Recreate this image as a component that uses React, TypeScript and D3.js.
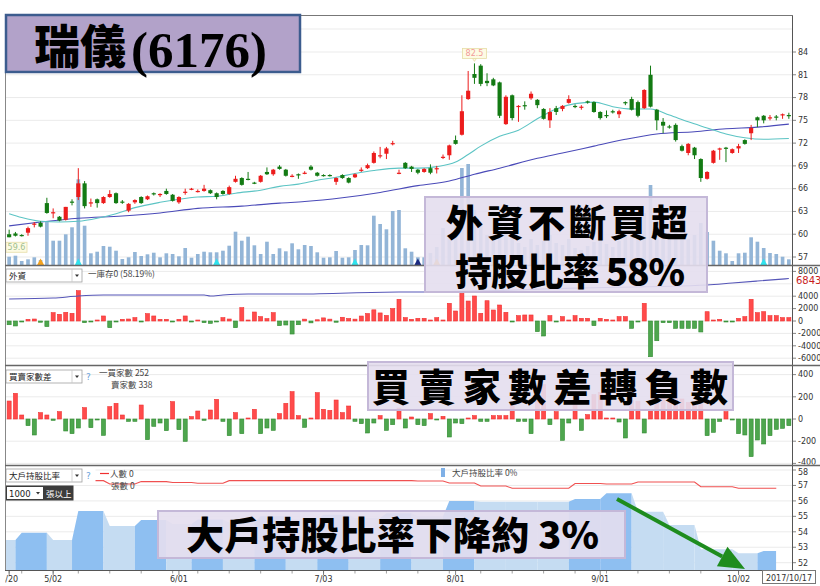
import * as d3 from 'd3';

// ---- data ----
const tickIdx = [0, 7, 27, 50, 71, 94, 116];
const tickLabels = ['4/20', '5/02', '6/01', '7/03', '8/01', '9/01', '10/02'];
const weekStarts = [0, 2, 7, 11, 16, 21, 26, 30, 35, 40, 45, 50, 55, 60, 65, 70, 75, 80, 85, 90, 95, 100, 105, 110, 116, 120, 123];

// open, high, low, close
const ohlc: [number, number, number, number][] = [
  [60.0, 60.6, 59.6, 59.6], [60.1, 60.3, 59.7, 59.8], [59.9, 60.0, 59.7, 59.8], [60.2, 61.0, 59.8, 60.8], [61.3, 61.6, 60.9, 61.4],
  [61.5, 61.7, 60.9, 61.0], [64.1, 64.8, 62.7, 62.8], [62.8, 63.4, 62.1, 62.9], [62.3, 62.4, 61.7, 61.8], [61.9, 63.6, 61.8, 63.6],
  [64.3, 64.6, 63.8, 64.2], [64.9, 68.7, 64.5, 66.7], [66.7, 67.0, 63.4, 63.7], [64.1, 64.7, 63.6, 64.2], [64.6, 64.7, 63.5, 64.1],
  [64.1, 65.0, 64.0, 64.9], [64.9, 65.8, 64.8, 65.3], [65.4, 65.5, 64.0, 64.1], [64.3, 64.5, 64.0, 64.2], [63.1, 64.1, 62.9, 64.0],
  [64.2, 64.6, 64.0, 64.5], [64.9, 65.0, 64.0, 64.1], [64.6, 65.1, 64.5, 65.0], [65.4, 65.5, 65.1, 65.3], [65.3, 65.4, 64.9, 65.3],
  [65.7, 66.0, 65.2, 65.3], [65.2, 65.3, 64.3, 64.4], [64.2, 65.0, 64.0, 64.9], [65.5, 66.0, 65.2, 65.6], [66.0, 66.1, 65.8, 66.0],
  [65.6, 65.9, 65.5, 65.7], [65.7, 66.5, 65.6, 66.0], [65.8, 65.9, 65.3, 65.4], [65.4, 65.5, 64.6, 64.9], [65.7, 65.8, 65.2, 65.3],
  [65.3, 66.4, 65.2, 66.2], [66.9, 67.7, 66.8, 67.3], [67.4, 67.5, 66.4, 66.5], [67.3, 68.2, 67.1, 67.2], [66.8, 66.9, 66.6, 66.7],
  [66.9, 67.8, 66.8, 67.7], [68.2, 68.8, 67.8, 67.9], [67.9, 68.6, 67.7, 68.5], [68.9, 69.1, 68.5, 68.6], [68.5, 68.6, 67.6, 67.7],
  [67.6, 67.9, 67.5, 67.7], [67.9, 68.0, 67.3, 67.8], [68.0, 68.3, 67.9, 68.1], [68.9, 69.1, 68.4, 68.5], [68.1, 68.2, 67.6, 67.7],
  [67.8, 67.9, 67.6, 67.7], [67.8, 67.9, 67.6, 67.7], [66.9, 67.5, 66.5, 67.4], [67.8, 67.9, 67.3, 67.4], [67.4, 67.5, 66.7, 66.8],
  [67.5, 68.0, 67.4, 67.9], [68.4, 68.8, 68.2, 68.5], [68.7, 69.3, 68.6, 69.1], [69.4, 70.9, 69.3, 70.7], [70.3, 71.5, 70.0, 70.4],
  [70.6, 71.5, 69.9, 71.3], [71.9, 72.3, 71.7, 72.0], [68.0, 68.5, 67.9, 68.1], [69.4, 69.5, 68.6, 68.7], [68.9, 69.0, 68.2, 68.6],
  [68.5, 68.6, 67.9, 68.1], [68.2, 68.7, 68.1, 68.6], [68.7, 69.2, 67.9, 68.1], [68.6, 69.0, 68.0, 68.7], [70.1, 70.5, 69.9, 70.2],
  [70.4, 71.8, 69.8, 71.7], [72.4, 73.0, 71.8, 71.9], [73.1, 78.3, 73.0, 76.2], [77.8, 81.5, 77.7, 78.9], [81.1, 82.5, 79.8, 80.6],
  [82.2, 82.4, 79.5, 79.8], [80.2, 81.2, 79.5, 79.9], [80.4, 80.6, 79.5, 79.6], [80.0, 80.1, 75.3, 75.6], [74.5, 78.3, 74.4, 78.1],
  [78.3, 78.4, 75.0, 75.3], [76.8, 77.0, 74.8, 76.9], [77.0, 77.5, 76.4, 76.9], [77.9, 78.8, 77.7, 78.5], [77.7, 77.8, 76.6, 77.0],
  [76.5, 76.6, 75.1, 75.2], [75.0, 76.6, 74.0, 76.1], [76.6, 76.9, 75.7, 76.1], [76.5, 77.0, 76.2, 76.9], [77.3, 78.3, 77.2, 77.8],
  [76.9, 77.1, 76.6, 76.8], [76.7, 77.0, 76.4, 76.8], [77.5, 77.6, 77.2, 77.4], [77.4, 77.5, 76.0, 76.1], [76.1, 76.2, 75.1, 75.3],
  [75.7, 76.3, 75.3, 75.6], [76.2, 76.4, 75.9, 76.1], [75.8, 76.4, 75.3, 76.2], [77.4, 77.5, 77.0, 77.3], [77.8, 78.1, 76.3, 76.4],
  [77.4, 77.6, 75.4, 75.6], [76.6, 79.1, 76.5, 79.0], [81.0, 82.2, 76.7, 76.8], [76.4, 76.5, 73.7, 75.0], [74.8, 75.3, 73.3, 74.3],
  [74.2, 74.4, 73.9, 74.1], [74.4, 74.6, 72.2, 72.4], [71.6, 71.8, 70.9, 71.0], [70.7, 72.0, 70.4, 71.9], [71.4, 71.5, 69.9, 70.4],
  [69.9, 70.0, 66.9, 67.4], [67.3, 68.3, 67.2, 68.2], [69.4, 71.1, 69.3, 71.0], [71.2, 71.4, 69.8, 71.3], [71.4, 71.5, 69.5, 71.3],
  [70.7, 71.3, 70.6, 71.2], [71.3, 71.9, 70.7, 71.6], [72.4, 72.5, 71.8, 71.9], [73.3, 74.4, 72.4, 74.0], [75.4, 75.5, 74.1, 75.0],
  [75.6, 75.7, 74.6, 75.0], [75.3, 75.7, 75.0, 75.4], [75.5, 75.7, 75.0, 75.4], [75.8, 75.9, 75.2, 75.8], [75.7, 76.0, 75.2, 75.6],
];

const volume = [
  830, 930, 400, 570, 770, 500, 4330, 2430, 2430, 3070, 3770, 8570, 3930, 1170, 1330, 1900, 1830, 1430, 600, 770,
  1300, 900, 1070, 1230, 770, 1170, 1100, 870, 1700, 730, 1100, 1330, 1270, 1270, 1430, 1930, 3330, 2430, 2830, 1970,
  1100, 2330, 1100, 1670, 1370, 2170, 1570, 2000, 1900, 1270, 730, 770, 1400, 730, 770, 1500, 2000, 1970, 4930, 4100,
  3570, 5400, 5500, 1670, 1330, 770, 770, 1200, 1800, 3700, 2800, 4500, 9700, 10100, 5500, 4200, 3000, 2500, 4800, 4000,
  3200, 2200, 1800, 2600, 2000, 2400, 3000, 2200, 2000, 2600, 1700, 1500, 1900, 2300, 2800, 2100, 1800, 2400, 3000, 3600,
  3200, 5200, 8000, 4500, 3500, 2800, 3200, 3800, 2600, 3000, 4200, 3300, 2430, 1430, 1170, 400, 1170, 1230, 2770, 2330,
  1700, 1200, 1100, 830, 570,
];

const markerIdx = [5, 11, 33, 55, 65, 68, 120];
const markerColor = ['#f5a21c', '#2fe3ee', '#2fe3ee', '#2fe3ee', '#1b2a80', '#f5a21c', '#2fe3ee'];

const ma20Idx = [0, 2, 5, 8, 11, 14, 17, 20, 24, 27, 30, 33, 36, 40, 43, 46, 49, 52, 55, 58, 62, 65, 68, 71, 73, 75, 78, 81, 84, 87, 90, 93, 96, 99, 102, 105, 108, 111, 114, 117, 120, 124];
const ma20Val = [62.7, 62.2, 61.7, 61.6, 61.7, 62.1, 62.7, 63.5, 64.2, 64.6, 64.9, 65.0, 65.4, 65.8, 66.3, 66.6, 67.1, 67.5, 68.0, 68.4, 68.7, 68.7, 68.9, 69.5, 70.5, 71.6, 72.9, 73.7, 75.2, 76.5, 77.2, 77.4, 76.8, 76.5, 76.5, 75.7, 74.8, 74.0, 73.2, 72.7, 72.5, 72.6];
const ma60Idx = [0, 5, 11, 18, 24, 30, 37, 43, 47, 53, 59, 65, 70, 74, 78, 84, 88, 93, 98, 103, 109, 114, 119, 124];
const ma60Val = [61.1, 61.6, 62.1, 62.4, 62.8, 63.4, 63.7, 64.1, 64.3, 64.8, 65.5, 66.4, 67.0, 67.9, 68.7, 70.0, 70.7, 71.6, 72.5, 73.2, 73.5, 73.9, 74.1, 74.5];

const foreignNet = [
  -600, -800, -50, 270, 320, -200, -900, 1340, 1080, 1400, 1240, 4890, -270, -160, 100, 810, -1080, -50, 270, 320,
  540, -50, 1180, 810, 270, 270, -160, 270, 810, -50, 0, -270, -380, -50, 540, 320, -1080, 2150, 100, 1450,
  700, 380, 1340, -750, -645, -2100, -600, 300, -300, 200, 500, 300, -200, 600, 400, 300, 800, 1200, 1800, 1300,
  900, 2000, 3500, 540, 270, 430, 430, 160, 540, 100, 2850, 1610, 4460, 3220, 4030, 1240, 3270, 1770, 2580, 1400,
  -100, 860, 970, 970, -1720, -2420, 860, -100, 700, 160, 860, 430, 430, -750, 430, 270, 160, 700, 700, -1180,
  -100, 2850, -5760, -3180, -270, -270, -1180, -1180, -1180, -1180, -1770, 1500, 160, 270, -50, -100, 430, 700, 3500, 1340,
  1500, 860, 860, 540, 540,
];
const holdIdx = [0, 7, 11, 15, 23, 31, 32, 34, 38, 46, 62, 66, 90, 111, 115, 119, 124];
const holdVal = [3550, 3700, 4030, 4190, 4190, 4190, 4030, 4190, 4350, 4350, 4680, 4680, 5300, 5800, 6130, 6450, 6843];

const brokerDiff = [
  162, 231, 36, -60, -144, 57, 36, -12, 66, -108, -132, -81, 102, -78, -6, -147, 111, 141, 36, -21,
  -21, 126, -186, -66, -36, -105, 156, -96, -201, 21, 72, -12, 81, 177, -21, -150, 57, -132, 6, 87,
  -132, -81, -102, 48, 141, 246, 30, -75, 6, 237, 87, 78, 171, 57, 117, -21, -42, -126, -36, 30,
  -102, -51, 99, -81, 18, -51, -60, 48, -6, 24, -162, -36, -42, 6, 30, -21, -21, 30, 30, 30,
  120, -21, -21, -132, 290, 310, -51, 66, -192, -36, 130, -102, 39, 220, 240, 9, 9, -27, -171, 170,
  160, -126, 84, 200, 250, 200, 260, 180, 150, 120, 140, -150, -120, -21, 66, -6, -132, -144, -339, -189,
  -225, -150, -93, -84, -60,
];

// weekly big-holder ratio (%) and holder count
const bigRatio = [53.47, 53.94, 53.47, 55.35, 54.37, 54.76, 54.5, 54.8, 54.6, 55.0, 54.8, 55.1, 54.9, 55.2, 55.0, 56.0, 55.95, 55.95, 55.95, 56.12, 56.49, 55.3, 54.44, 52.87, 52.61, 52.76];
const bigHolders = [235.6, 235.6, 235.6, 235.9, 232.7, 235.0, 234.1, 233.4, 235.9, 235.9, 235.9, 235.9, 235.9, 235.9, 235.6, 233.7, 230.8, 228.6, 228.6, 233.2, 232.7, 234.6, 234.6, 230.1, 228.6, 228.6];

const priceTicks = [57, 60, 63, 66, 69, 72, 75, 78, 81, 84];
const foreignTicks = [8000, 4000, 2000, 0, -2000, -4000, -6000];
const diffTicks = [400, 200, 0, -200, -400];
const ratioTicks = [58, 57, 56, 55, 54, 53, 52];

const RED = '#ec1c1c';
const GREEN = '#137a13';
const AXIS_FONT = 'DejaVu Sans, Verdana, sans-serif';
const CJK = '"Noto Sans CJK TC", "Noto Sans CJK SC", sans-serif';

function Dropdown({ x, y, w, label }: { x: number; y: number; w: number; label: string }) {
  return (
    <g>
      <rect x={x} y={y} width={w} height={13} fill="#fff" stroke="#a0a0a0" strokeWidth={0.8} />
      <line x1={x + w - 10} x2={x + w - 10} y1={y} y2={y + 13} stroke="#c8c8c8" strokeWidth={0.8} />
      <text x={x + 3} y={y + 9.5} fontSize={8.5} fontFamily={CJK} fill="#222">{label}</text>
      <path d={`M${x + w - 7},${y + 5.5} l4,0 l-2,2.5 z`} fill="#333" />
    </g>
  );
}

function BigBox({ x, y, w, h, children }: { x: number; y: number; w: number; h: number; children: any }) {
  return (
    <g>
      <rect x={x} y={y} width={w} height={h} fill="rgba(228,222,238,0.9)" stroke="#c4b8d8" strokeWidth={2} />
      {children}
    </g>
  );
}

export default function App() {
  const N = ohlc.length;
  const x = d3.scaleBand<number>().domain(d3.range(N)).range([6, 792]);
  const bw = x.bandwidth();
  const cx = (i: number) => (x(i) ?? 0) + bw / 2;

  const yP = d3.scaleLinear().domain([57, 84]).range([257, 52]);
  const yV = d3.scaleLinear().domain([0, 10000]).range([265, 165]);
  const yF = d3.scaleLinear().domain([-6000, 8000]).range([358.2, 271.4]);
  const yD = d3.scaleLinear().domain([-400, 400]).range([463.4, 374.6]);
  const yR = d3.scaleLinear().domain([52, 58]).range([562.7, 470]);
  const yH = d3.scaleLinear().domain([150, 250]).range([570, 466]);

  const ma20Path = d3.line<number>().x(i => cx(ma20Idx[i])).y(i => yP(ma20Val[i])).curve(d3.curveMonotoneX)(d3.range(ma20Idx.length)) ?? '';
  const ma60Path = d3.line<number>().x(i => cx(ma60Idx[i])).y(i => yP(ma60Val[i])).curve(d3.curveMonotoneX)(d3.range(ma60Idx.length)) ?? '';
  const holdPath = d3.line<number>().x(i => cx(holdIdx[i])).y(i => yF(holdVal[i])).curve(d3.curveMonotoneX)(d3.range(holdIdx.length)) ?? '';

  const weekOf = (i: number) => d3.bisectRight(weekStarts, i) - 1;
  const ratioDays = d3.range(weekStarts[bigRatio.length]);
  const ratioPts: [number, number][] = [[x.range()[0], bigRatio[0]], ...ratioDays.map(i => [cx(i), bigRatio[weekOf(i)]] as [number, number])];
  const ratioArea = d3.area<[number, number]>().x(d => d[0]).y0(570).y1(d => yR(d[1]))(ratioPts) ?? '';
  const holderPath = d3.line<number>().x(i => cx(i)).y(i => yH(bigHolders[weekOf(i)]))(ratioDays) ?? '';

  const weeks = d3.range(bigRatio.length).map(w => ({
    x0: w === 0 ? x.range()[0] : cx(weekStarts[w] - 1),
    x1: cx(weekStarts[w + 1] - 1),
    dark: w > 0 && bigRatio[w] > bigRatio[w - 1],
  }));

  const bodyW = bw * 0.66;
  const barW = bw * 0.64;
  const volW = bw * 0.58;

  const hi = ohlc[74];
  const lo = ohlc[0];
  const lastHold = holdVal[holdVal.length - 1];

  const grid = (ys: number[]) => ys.map((y, k) => <line key={k} x1={6} x2={792} y1={y} y2={y} stroke="#ebebeb" strokeWidth={1} />);
  // labels at the panel edges are nudged a little so they don't collide
  const axisLabels = (ticks: number[], scale: (v: number) => number, nudgeFirst = 0, nudgeLast = 0) =>
    ticks.map((t, k) => (
      <g key={t}>
        <line x1={792} x2={796} y1={scale(t)} y2={scale(t)} stroke="#666" strokeWidth={0.8} />
        <text x={798} y={scale(t) + (k === 0 ? nudgeFirst : k === ticks.length - 1 ? nudgeLast : 0)} dy="0.35em"
          fontSize={8} fontFamily={AXIS_FONT} fill="#333">{t}</text>
      </g>
    ));

  const bar = (v: number, i: number, scale: (v: number) => number, key: string) => {
    const y0 = scale(0);
    const y1 = scale(v);
    const h = Math.max(Math.abs(y1 - y0), 1);
    const up = v >= 0;
    return (
      <rect key={key + i} x={cx(i) - barW / 2} y={up ? y0 - h : y0} width={barW} height={h}
        fill={up ? '#ff4b4b' : '#4ea64e'} stroke={up ? '#f03030' : '#2f8a2f'} strokeWidth={0.6} />
    );
  };

  const arrowFrom: [number, number] = [617, 499];
  const arrowTo: [number, number] = [745, 569];
  const ang = Math.atan2(arrowTo[1] - arrowFrom[1], arrowTo[0] - arrowFrom[0]);
  const headL = 26, headW = 11;
  const bx = arrowTo[0] - headL * Math.cos(ang), by = arrowTo[1] - headL * Math.sin(ang);
  const head = `M${arrowTo[0]},${arrowTo[1]} L${bx + headW * Math.sin(ang)},${by - headW * Math.cos(ang)} L${bx - headW * Math.sin(ang)},${by + headW * Math.cos(ang)} Z`;

  return (
    <svg width={820} height={586} viewBox="0 0 820 586" style={{ position: 'absolute', left: 0, top: 0, background: '#fff' }}>
      <defs>
        <clipPath id="p1"><rect x={6} y={15} width={786} height={250} /></clipPath>
        <clipPath id="p2"><rect x={6} y={266} width={786} height={99} /></clipPath>
        <clipPath id="p3"><rect x={6} y={366} width={786} height={99} /></clipPath>
        <clipPath id="p4"><rect x={6} y={466} width={786} height={104} /></clipPath>
        <clipPath id="l2"><rect x={790} y={266.5} width={30} height={98.5} /></clipPath>
        <clipPath id="l3"><rect x={790} y={366.5} width={30} height={98} /></clipPath>
        <clipPath id="l4"><rect x={790} y={467} width={30} height={103} /></clipPath>
        <clipPath id="xlab"><rect x={5} y={570} width={815} height={16} /></clipPath>
        {weeks.map((w, k) => (
          <clipPath key={k} id={`wk${k}`}><rect x={w.x0} y={466} width={w.x1 - w.x0} height={104} /></clipPath>
        ))}
      </defs>
      <rect x={0} y={0} width={820} height={586} fill="#fff" />

      {/* panel 1: price */}
      {grid([29, ...priceTicks.map(t => yP(t))])}
      <g clipPath="url(#p1)">
        {volume.map((v, i) => (
          <rect key={'v' + i} x={cx(i) - volW / 2} y={yV(v)} width={volW} height={yV(0) - yV(v)} fill="#93b5d7" />
        ))}
        {markerIdx.map((m, k) => (
          <path key={'m' + k} d={`M${cx(m) - 3.5},265 L${cx(m) + 3.5},265 L${cx(m)},258.5 Z`} fill={markerColor[k]} />
        ))}
        <path d={ma60Path} fill="none" stroke="#4a4ab8" strokeWidth={1.1} />
        <path d={ma20Path} fill="none" stroke="#5cc4c4" strokeWidth={1.1} />
        {ohlc.map(([o, h, l, c], i) => {
          const up = c >= o;
          const col = up ? RED : GREEN;
          const top = yP(Math.max(o, c));
          const bh = Math.max(yP(Math.min(o, c)) - top, 1.2);
          return (
            <g key={'c' + i}>
              <line x1={cx(i)} x2={cx(i)} y1={yP(h)} y2={yP(l)} stroke={col} strokeWidth={1} />
              <rect x={cx(i) - bodyW / 2} y={top} width={bodyW} height={bh} fill={col} />
            </g>
          );
        })}
      </g>
      {/* high / low tags */}
      <g>
        <path d={`M${cx(74) - 2},${yP(hi[1]) - 5} l2,3 l2,-3 z`} fill="#fdfbe4" stroke="#e6dca6" strokeWidth={0.8} />
        <rect x={cx(74) - 12} y={yP(hi[1]) - 15} width={24} height={10} fill="#fdfbe4" stroke="#e6dca6" strokeWidth={0.8} />
        <text x={cx(74)} y={yP(hi[1]) - 7} textAnchor="middle" fontSize={8} fontFamily={AXIS_FONT} fill="#f29a9a">{hi[1]}</text>
        <rect x={6} y={yP(lo[2]) + 5} width={21} height={10} fill="#fdfbe4" stroke="#e6dca6" strokeWidth={0.8} />
        <text x={16.5} y={yP(lo[2]) + 13} textAnchor="middle" fontSize={8} fontFamily={AXIS_FONT} fill="#9fbf8f">{lo[2]}</text>
      </g>
      {axisLabels(priceTicks, yP)}

      {/* panel 2: foreign investors */}
      {grid(foreignTicks.map(t => yF(t)).concat([yF(6000)]))}
      <g clipPath="url(#p2)">
        {foreignNet.map((v, i) => bar(v, i, yF, 'f'))}
        <path d={holdPath} fill="none" stroke="#5656b8" strokeWidth={1.1} />
      </g>
      <g clipPath="url(#l2)">{axisLabels(foreignTicks, yF)}</g>
      <rect x={795} y={yF(lastHold) - 4} width={24} height={11} fill="#fff" />
      <text x={796} y={yF(lastHold) + 2} dy="0.35em" fontSize={10} fontFamily={AXIS_FONT} fill="#c81e1e">{lastHold}</text>
      <Dropdown x={6} y={269} w={76} label="外資" />
      <text x={88} y={277} fontSize={8.5} fontFamily={CJK} fill="#444">一庫存0 (58.19%)</text>

      {/* panel 3: buyer-seller count difference */}
      {grid(diffTicks.map(t => yD(t)))}
      <g clipPath="url(#p3)">{brokerDiff.map((v, i) => bar(v, i, yD, 'd'))}</g>
      <g clipPath="url(#l3)">{axisLabels(diffTicks, yD, 0, -1.2)}</g>
      <Dropdown x={6} y={370} w={76} label="買賣家數差" />
      <text x={86} y={380} fontSize={9} fontFamily={AXIS_FONT} fill="#6aa2da">?</text>
      <text x={99} y={376} fontSize={8.5} fontFamily={CJK} fill="#444">一買家數 252</text>
      <text x={111} y={388} fontSize={8.5} fontFamily={CJK} fill="#444">賣家數 338</text>

      {/* panel 4: big holder ratio */}
      {grid(ratioTicks.map(t => yR(t)))}
      <g clipPath="url(#p4)">
        {weeks.map((w, k) => (
          <path key={'w' + k} d={ratioArea} fill={w.dark ? '#8ebff1' : '#c5dcf2'} clipPath={`url(#wk${k})`} />
        ))}
        <path d={holderPath} fill="none" stroke="#f05050" strokeWidth={1.1} />
      </g>
      <g clipPath="url(#l4)">{axisLabels(ratioTicks, yR, 2.5, 0)}</g>
      <rect x={5.5} y={467} width={90} height={18} fill="#fff" />
      <Dropdown x={6} y={469} w={76} label="大戶持股比率" />
      <text x={86} y={479} fontSize={9} fontFamily={AXIS_FONT} fill="#6aa2da">?</text>
      <line x1={100} x2={109} y1={473.5} y2={473.5} stroke="#f03030" strokeWidth={1.2} />
      <text x={110} y={477} fontSize={8.5} fontFamily={CJK} fill="#444">人數 0</text>
      <text x={111} y={489} fontSize={8.5} fontFamily={CJK} fill="#444">張數 0</text>
      <rect x={5.5} y={485.5} width={68} height={15} fill="#3c3c3c" />
      <rect x={7} y={487} width={36} height={12} fill="#fff" />
      <text x={9} y={496.5} fontSize={8.5} fontFamily={AXIS_FONT} fill="#222">1000</text>
      <path d={`M36,492 l4,0 l-2,2.5 z`} fill="#333" />
      <text x={46} y={496.5} fontSize={8.5} fontFamily={CJK} fill="#fff">張以上</text>
      <rect x={441} y={468} width={4} height={9} fill="#7fb0e6" />
      <text x={452} y={476} fontSize={8.5} fontFamily={CJK} fill="#444">大戶持股比率 0%</text>

      {/* frame & separators */}
      <line x1={5.5} x2={5.5} y1={15} y2={570} stroke="#888" strokeWidth={1} />
      <line x1={792.5} x2={792.5} y1={15} y2={570} stroke="#555" strokeWidth={1} />
      <line x1={5} x2={793} y1={15.5} y2={15.5} stroke="#777" strokeWidth={1} />
      {[265.5, 365.5, 465.5].map(y => (
        <line key={y} x1={5} x2={820} y1={y} y2={y} stroke="#666" strokeWidth={1.4} />
      ))}
      <line x1={5} x2={793} y1={570.5} y2={570.5} stroke="#555" strokeWidth={1} />

      {/* x axis */}
      {weekStarts.map(i => (
        <line key={'wt' + i} x1={cx(i)} x2={cx(i)} y1={571} y2={573.5} stroke="#888" strokeWidth={0.8} />
      ))}
      <g clipPath="url(#xlab)">
        {tickIdx.map((t, k) => (
          <g key={'t' + t}>
            <line x1={cx(t)} x2={cx(t)} y1={571} y2={575} stroke="#666" strokeWidth={0.8} />
            <text x={cx(t)} y={582} textAnchor="middle" fontSize={8} fontFamily={AXIS_FONT} fill="#333">{tickLabels[k]}</text>
          </g>
        ))}
      </g>
      <rect x={762.5} y={570.5} width={53} height={13} fill="#fff" stroke="#777" strokeWidth={1} />
      <text x={789} y={580.5} textAnchor="middle" fontSize={8} fontFamily={AXIS_FONT} fill="#333">2017/10/17</text>

      {/* annotations */}
      <rect x={6} y={15} width={294} height={57} fill="#b2a2c9" stroke="#3c5c8e" strokeWidth={2.5} />
      <text x={34} y={63} fontSize={46} fontWeight={900} fontFamily={CJK} fill="#000">瑞儀</text>
      <text x={131} y={67} fontSize={51} fontWeight={700} fontFamily="Liberation Serif, serif" fill="#000" textLength={136} lengthAdjust="spacingAndGlyphs">(6176)</text>

      <BigBox x={425} y={197} w={282} h={95}>
        <text x={446} y={237} fontSize={37} fontWeight={900} fontFamily={CJK} fill="#000" textLength={242} lengthAdjust="spacing">外資不斷買超</text>
        <text x={455} y={286} fontSize={37} fontWeight={900} fontFamily={CJK} fill="#000" textLength={230} lengthAdjust="spacing">持股比率 58%</text>
      </BigBox>
      <BigBox x={368} y={362} w={365} h={48}>
        <text x={372} y={401} fontSize={38} fontWeight={900} fontFamily={CJK} fill="#000" textLength={356} lengthAdjust="spacing">買賣家數差轉負數</text>
      </BigBox>
      <BigBox x={158} y={511} w={467} h={47}>
        <text x={186} y={549} fontSize={38} fontWeight={900} fontFamily={CJK} fill="#000" textLength={413} lengthAdjust="spacing">大戶持股比率下降約 3%</text>
      </BigBox>

      <line x1={arrowFrom[0]} y1={arrowFrom[1]} x2={bx} y2={by} stroke="#1e8c1e" strokeWidth={4} />
      <path d={head} fill="#1e8c1e" />
    </svg>
  );
}
